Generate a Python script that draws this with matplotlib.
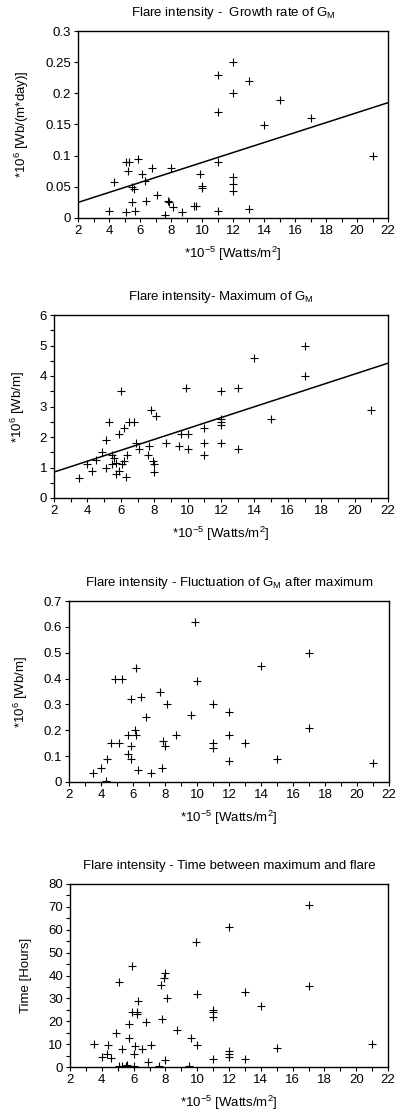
import numpy as np
import matplotlib
matplotlib.use("Agg")
import matplotlib.pyplot as plt
from matplotlib.ticker import MultipleLocator, FuncFormatter

plt.rcParams['font.family'] = ['Liberation Sans', 'DejaVu Sans']
plt.rcParams['mathtext.default'] = 'regular'

##growth rate of G_M
growthX = [4.0, 4.3, 5.1, 5.1, 5.3, 5.2, 5.5, 5.6, 5.5, 5.7, 5.9, 6.1, 6.3, 6.4, 6.8, 7.1,
           7.6, 7.8, 7.9, 8.0, 8.1, 8.7, 9.5, 9.6, 9.9, 10.0, 10.0, 11, 11, 11, 11,
           12, 12, 12, 12, 12, 13, 13, 14, 15, 17, 21]
growthY = [0.012, 0.058, 0.010, 0.090, 0.090, 0.075, 0.050, 0.047, 0.025, 0.012, 0.094, 0.070,
           0.060, 0.028, 0.080, 0.037, 0.005, 0.028, 0.025, 0.080, 0.018, 0.010, 0.020, 0.020,
           0.070, 0.052, 0.048, 0.230, 0.170, 0.090, 0.012, 0.250, 0.200, 0.065, 0.054, 0.044,
           0.220, 0.014, 0.150, 0.190, 0.160, 0.100]
growthTrend = [0.008, 0.009]  # slope, intercept

##maximum of G_M
maxX = [3.5, 4.0, 4.3, 4.5, 4.9, 5.1, 5.1, 5.3, 5.5, 5.5, 5.6, 5.7, 5.7, 5.9, 5.9, 6.0,
        6.1, 6.2, 6.2, 6.3, 6.4, 6.5, 6.8, 6.9, 7.1, 7.6, 7.7, 7.8, 7.9, 8.0, 8.0, 8.1,
        8.7, 9.5, 9.6, 9.9, 10, 10, 11, 11, 11, 12, 12, 12, 12, 12, 13, 13, 14, 15, 17, 17, 21]
maxY = [0.65, 1.1, 0.9, 1.25, 1.5, 1.0, 1.9, 2.5, 1.4, 1.1, 1.3, 0.8, 1.15, 2.1, 0.9, 3.5,
        1.1, 2.3, 1.2, 0.7, 1.4, 2.5, 2.5, 1.8, 1.6, 1.4, 1.7, 2.9, 1.2, 1.1, 0.85, 2.7,
        1.8, 1.7, 2.1, 3.6, 2.1, 1.6, 2.3, 1.8, 1.4, 3.5, 2.6, 2.5, 2.4, 1.8, 3.6, 1.6,
        4.6, 2.6, 5.0, 4.0, 2.9]
maxTrend = [0.1785, 0.493]

##fluctuation after maximum
flucX = [3.5, 4.0, 4.3, 4.4, 4.6, 4.9, 5.1, 5.3, 5.7, 5.7, 5.9, 5.9, 5.9, 6.1, 6.2, 6.2,
         6.3, 6.5, 6.8, 7.1, 7.7, 7.8, 7.9, 8.0, 8.1, 8.7, 9.6, 9.9, 10.0, 11, 11, 11,
         12, 12, 12, 13, 14, 15, 17, 17, 21]
flucY = [0.035, 0.055, 0.005, 0.090, 0.150, 0.400, 0.150, 0.400, 0.180, 0.110, 0.140, 0.090,
         0.320, 0.200, 0.180, 0.440, 0.045, 0.330, 0.250, 0.035, 0.350, 0.055, 0.160, 0.140,
         0.300, 0.180, 0.260, 0.620, 0.390, 0.300, 0.150, 0.130, 0.270, 0.180, 0.080, 0.150,
         0.450, 0.090, 0.500, 0.210, 0.075]

##time between maximum and flare
timeX = [3.5, 4.0, 4.3, 4.4, 4.6, 4.9, 5.1, 5.1, 5.3, 5.3, 5.5, 5.6, 5.7, 5.7, 5.9, 5.9,
         6.0, 6.0, 6.1, 6.2, 6.2, 6.3, 6.5, 6.8, 6.9, 7.1, 7.6, 7.7, 7.8, 7.9, 8.0, 8.0,
         8.1, 8.7, 9.5, 9.6, 9.9, 10, 10, 11, 11, 11, 11, 12, 12, 12, 12, 13, 13, 14, 15,
         17, 17, 21]
timeY = [10, 4.5, 5.5, 9.5, 4, 15, 37, 0.5, 8, 0.5, 0.5, 1, 19, 12.5, 44, 24,
         5.5, 0.3, 9, 24, 23, 29, 8, 19.5, 2, 9.5, 0.3, 36, 21, 39, 41, 3,
         30, 16, 0.5, 12.5, 54.5, 32, 9.5, 25, 24, 22, 3.5, 61, 7, 5.5, 4.5, 33, 3.5, 26.5, 8.5,
         71, 35.5, 10]

W, H = 396.0, 1114.0
fig = plt.figure(figsize=(W/100, H/100), dpi=100)

def makeAxes(l, t, r, b):
    return fig.add_axes([l/W, 1-b/H, (r-l)/W, (b-t)/H])

def style(ax, title, ylabel, ymax, ystep, yminor=None, ypad=9):
    ax.set_xlim(2, 22)
    ax.set_ylim(0, ymax)
    ax.xaxis.set_major_locator(MultipleLocator(2))
    ax.xaxis.set_minor_locator(MultipleLocator(1))
    ax.yaxis.set_major_locator(MultipleLocator(ystep))
    ax.yaxis.set_major_formatter(FuncFormatter(lambda v, p: '%g' % round(v, 4)))
    if yminor:
        ax.yaxis.set_minor_locator(MultipleLocator(yminor))
    ax.tick_params(which='both', direction='out', length=3, width=0.8, labelsize=9.5, pad=2)
    ax.tick_params(top=False, right=False)
    for s in ax.spines.values():
        s.set_linewidth(1.0)
    ax.set_title(title, fontsize=9.5, pad=11)
    ax.set_ylabel(ylabel, fontsize=9.5, labelpad=ypad)
    ax.set_xlabel(r'*10$^{-5}$ [Watts/m$^{2}$]', fontsize=9.5, labelpad=6)

mk = dict(marker='+', linestyle='none', color='black', markersize=6, markeredgewidth=0.8)
lx = np.array([2, 22])

ax1 = makeAxes(78, 31, 388, 218)
ax1.plot(growthX, growthY, **mk)
ax1.plot(lx, growthTrend[0]*lx + growthTrend[1], 'k-', linewidth=1.1)
style(ax1, r'Flare intensity -  Growth rate of G$_M$', r'*10$^{6}$ [Wb/(m*day)]', 0.3, 0.05, ypad=10)

ax2 = makeAxes(54, 315, 388, 498)
ax2.plot(maxX, maxY, **mk)
ax2.plot(lx, maxTrend[0]*lx + maxTrend[1], 'k-', linewidth=1.1)
style(ax2, r'Flare intensity- Maximum of G$_M$', r'*10$^{6}$ [Wb/m]', 6, 1, 0.5, ypad=9)

ax3 = makeAxes(69, 601, 389, 782)
ax3.plot(flucX, flucY, **mk)
style(ax3, r'Flare intensity - Fluctuation of G$_M$ after maximum', r'*10$^{6}$ [Wb/m]', 0.7, 0.1, ypad=10)

ax4 = makeAxes(70, 884, 388, 1067)
ax4.plot(timeX, timeY, **mk)
style(ax4, 'Flare intensity - Time between maximum and flare', 'Time [Hours]', 80, 10, 5, ypad=12)

fig.savefig('out.png', dpi=100)
